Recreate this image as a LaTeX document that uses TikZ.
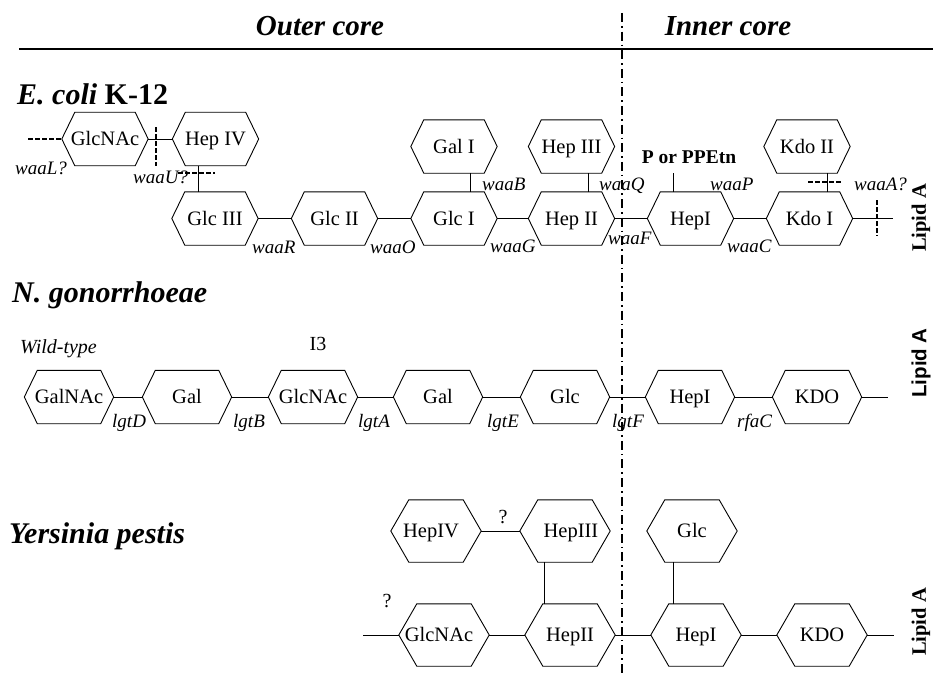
\documentclass[tikz,border=0pt]{standalone}
\usepackage{fontspec}
\setmainfont{Liberation Serif}
\newfontfamily\lsans{Liberation Sans}
\tikzset{
  hexline/.style={line width=0.9pt},
  hexshape/.style n args={3}{draw=none, inner sep=0pt, minimum width=#1, minimum height=#2,
    text height=13.5pt, text depth=0pt,
    font=\fontsize{20.5}{22}\selectfont,
    append after command={\pgfextra{\draw[hexline] (\tikzlastnode.west) -- ([xshift=#3]\tikzlastnode.north west) -- ([xshift=-#3]\tikzlastnode.north east) -- (\tikzlastnode.east) -- ([xshift=-#3]\tikzlastnode.south east) -- ([xshift=#3]\tikzlastnode.south west) -- cycle;}}},
  hexA/.style={hexshape={86pt}{53pt}{13pt}},
  hexB/.style={hexshape={89pt}{53pt}{13pt}},
  hexC/.style={hexshape={90pt}{62pt}{18pt}},
  conn/.style={line width=0.9pt},
  dsh/.style={line width=1.2pt, dash pattern=on 4.5pt off 2.5pt},
  gene/.style={anchor=base west, inner sep=0pt, font=\fontsize{19}{21}\selectfont\itshape},
  hdr/.style={anchor=base, inner sep=0pt, font=\fontsize{29}{32}\selectfont\bfseries\itshape},
  species/.style={anchor=base west, inner sep=0pt, font=\fontsize{30}{32}\selectfont\bfseries\itshape},
  lipid/.style={rotate=90, inner sep=0pt, font=\fontsize{20.5}{22}\selectfont\bfseries},
  plain/.style={inner sep=0pt, font=\fontsize{20}{22}\selectfont}
}
\begin{document}
\begin{tikzpicture}[x=1pt,y=-1pt]
\useasboundingbox (0,0) rectangle (933,674);

% headers
\node[hdr] (outer) at (320,36) {Outer core};
\node[hdr] (inner) at (728,36) {Inner core};
\coordinate (r1) at (19,49);
\coordinate (r2) at (933,49);
\draw[line width=1.1pt] (r1) -- (r2);
\coordinate (dd1) at (622,13);
\coordinate (dd2) at (622,674);
\draw[line width=1.3pt, dash pattern=on 9pt off 4pt on 1.6pt off 4pt] (dd1) -- (dd2);

% ---------------- E. coli K-12 ----------------
\node[species] (ecoli) at (17,104) {E. coli \textup{K-12}};

\node[hexA] (ecglcnac) at (105,139) {GlcNAc};
\node[hexA] (echep4) at (215.5,139) {Hep IV};
\node[hexA] (ecgal1) at (454,146.5) {Gal I};
\node[hexA] (echep3) at (571.5,146.5) {Hep III};
\node[hexA] (eckdo2) at (807,146.5) {Kdo II};

\node[hexA] (ecglc3) at (215,218.5) {Glc III};
\node[hexA] (ecglc2) at (334.5,218.5) {Glc II};
\node[hexA] (ecglc1) at (454,218.5) {Glc I};
\node[hexA] (echep2) at (571.5,218.5) {Hep II};
\node[hexA] (echep1) at (690.5,218.5) {HepI};
\node[hexA] (eckdo1) at (809.5,218.5) {Kdo I};

\draw[conn] (ecglcnac.east) -- (echep4.west);
\draw[conn] (ecglc3.east) -- (ecglc2.west);
\draw[conn] (ecglc2.east) -- (ecglc1.west);
\draw[conn] (ecglc1.east) -- (echep2.west);
\draw[conn] (echep2.east) -- (echep1.west);
\draw[conn] (echep1.east) -- (eckdo1.west);
\coordinate (eclend) at (893,218.5);
\draw[conn] (eckdo1.east) -- (eclend);

\draw[conn] ([xshift=-17.5pt]echep4.south) -- ([xshift=-17.5pt]echep4.south |- ecglc3.north);
\draw[conn] ([xshift=16pt]ecgal1.south) -- ([xshift=16pt]ecgal1.south |- ecglc1.north);
\draw[conn] ([xshift=16.5pt]echep3.south) -- ([xshift=16.5pt]echep3.south |- echep2.north);
\draw[conn] ([xshift=20pt]eckdo2.south) -- ([xshift=20pt]eckdo2.south |- eckdo1.north);

\node[inner sep=0pt, font=\fontsize{19.5}{21}\selectfont\bfseries] (ppetn) at (689,157) {P or PPEtn};
\coordinate (ppe) at (673,173);
\draw[conn] (ppe) -- (ppe |- echep1.north);

% dashed marks
\coordinate (dL) at (28,139);
\draw[dsh] (dL) -- (ecglcnac.west);
\coordinate (dU1) at (156,127);
\coordinate (dU2) at (156,166);
\draw[dsh] (dU1) -- (dU2);
\coordinate (dU3) at (178,173);
\coordinate (dU4) at (215,173);
\draw[dsh] (dU3) -- (dU4);
\coordinate (dA1) at (808,182);
\coordinate (dA2) at (843,182);
\draw[dsh] (dA1) -- (dA2);
\coordinate (dA3) at (877,200);
\coordinate (dA4) at (877,236);
\draw[dsh] (dA3) -- (dA4);

% gene labels
\node[gene] (waaL) at (15,174) {waaL?};
\node[gene] (waaU) at (133,183) {waaU?};
\node[gene] (waaR) at (252,253) {waaR};
\node[gene] (waaO) at (370,253) {waaO};
\node[gene] (waaB) at (482,190) {waaB};
\node[gene] (waaG) at (490,252) {waaG};
\node[gene] (waaQ) at (599,190) {waaQ};
\node[gene] (waaF) at (608,244) {waaF};
\node[gene] (waaP) at (710,190) {waaP};
\node[gene] (waaC) at (727,252) {waaC};
\node[gene] (waaA) at (854,190) {waaA?};

\node[lipid] (lipA1) at (921,218) {Lipid A};

% ---------------- N. gonorrhoeae ----------------
\node[species] (ngon) at (12,302) {N. gonorrhoeae};
\node[plain, anchor=base west, font=\fontsize{20}{22}\selectfont\itshape] (wild) at (20,353) {Wild-type};
\node[plain, anchor=base] (i3) at (318,350) {I3};

\node[hexB] (nggalnac) at (69,397) {GalNAc};
\node[hexB] (nggal1) at (187,397) {Gal};
\node[hexB] (ngglcnac) at (313,397) {GlcNAc};
\node[hexB] (nggal2) at (438,397) {Gal};
\node[hexB] (ngglc) at (565,397) {Glc};
\node[hexB] (nghep1) at (690,397) {HepI};
\node[hexB] (ngkdo) at (817,397) {KDO};

\draw[conn] (nggalnac.east) -- (nggal1.west);
\draw[conn] (nggal1.east) -- (ngglcnac.west);
\draw[conn] (ngglcnac.east) -- (nggal2.west);
\draw[conn] (nggal2.east) -- (ngglc.west);
\draw[conn] (ngglc.east) -- (nghep1.west);
\draw[conn] (nghep1.east) -- (ngkdo.west);
\coordinate (nglend) at (888,397);
\draw[conn] (ngkdo.east) -- (nglend);

\node[gene] (lgtD) at (112,427) {lgtD};
\node[gene] (lgtB) at (233,427) {lgtB};
\node[gene] (lgtA) at (358,427) {lgtA};
\node[gene] (lgtE) at (487,427) {lgtE};
\node[gene] (lgtF) at (612,427) {lgtF};
\node[gene] (rfaC) at (737,427) {rfaC};

\node[lipid, font=\fontsize{20.5}{22}\selectfont\lsans\bfseries] (lipA2) at (921,363) {Lipid A};

% ---------------- Yersinia pestis ----------------
\node[species] (ypes) at (9,543) {Yersinia pestis};

\node[hexC] (yphep4) at (436,531) {HepIV\hspace*{10pt}};
\node[hexC] (yphep3) at (565,531) {\hspace*{12pt}HepIII};
\node[hexC] (ypglc) at (692,531) {Glc};
\node[hexC] (ypglcnac) at (444,635) {GlcNAc\hspace*{10pt}};
\node[hexC] (yphep2) at (570,635) {HepII};
\node[hexC] (yphep1) at (696,635) {HepI};
\node[hexC] (ypkdo) at (822,635) {KDO};

\draw[conn] (yphep4.east) -- (yphep3.west);
\node[plain] (q1) at (503,517) {?};
\coordinate (yplstart) at (363,635);
\node[plain] (q2) at (387,601) {?};
\draw[conn] (yplstart) -- (ypglcnac.west);
\draw[conn] (ypglcnac.east) -- (yphep2.west);
\draw[conn] (yphep2.east) -- (yphep1.west);
\draw[conn] (yphep1.east) -- (ypkdo.west);
\coordinate (yplend) at (894,635);
\draw[conn] (ypkdo.east) -- (yplend);
\draw[conn] ([xshift=-21pt]yphep3.south) -- ([xshift=-21pt]yphep3.south |- yphep2.north);
\draw[conn] ([xshift=-19pt]ypglc.south) -- ([xshift=-19pt]ypglc.south |- yphep1.north);

\node[lipid] (lipA3) at (921,622) {Lipid A};
\end{tikzpicture}
\end{document}
